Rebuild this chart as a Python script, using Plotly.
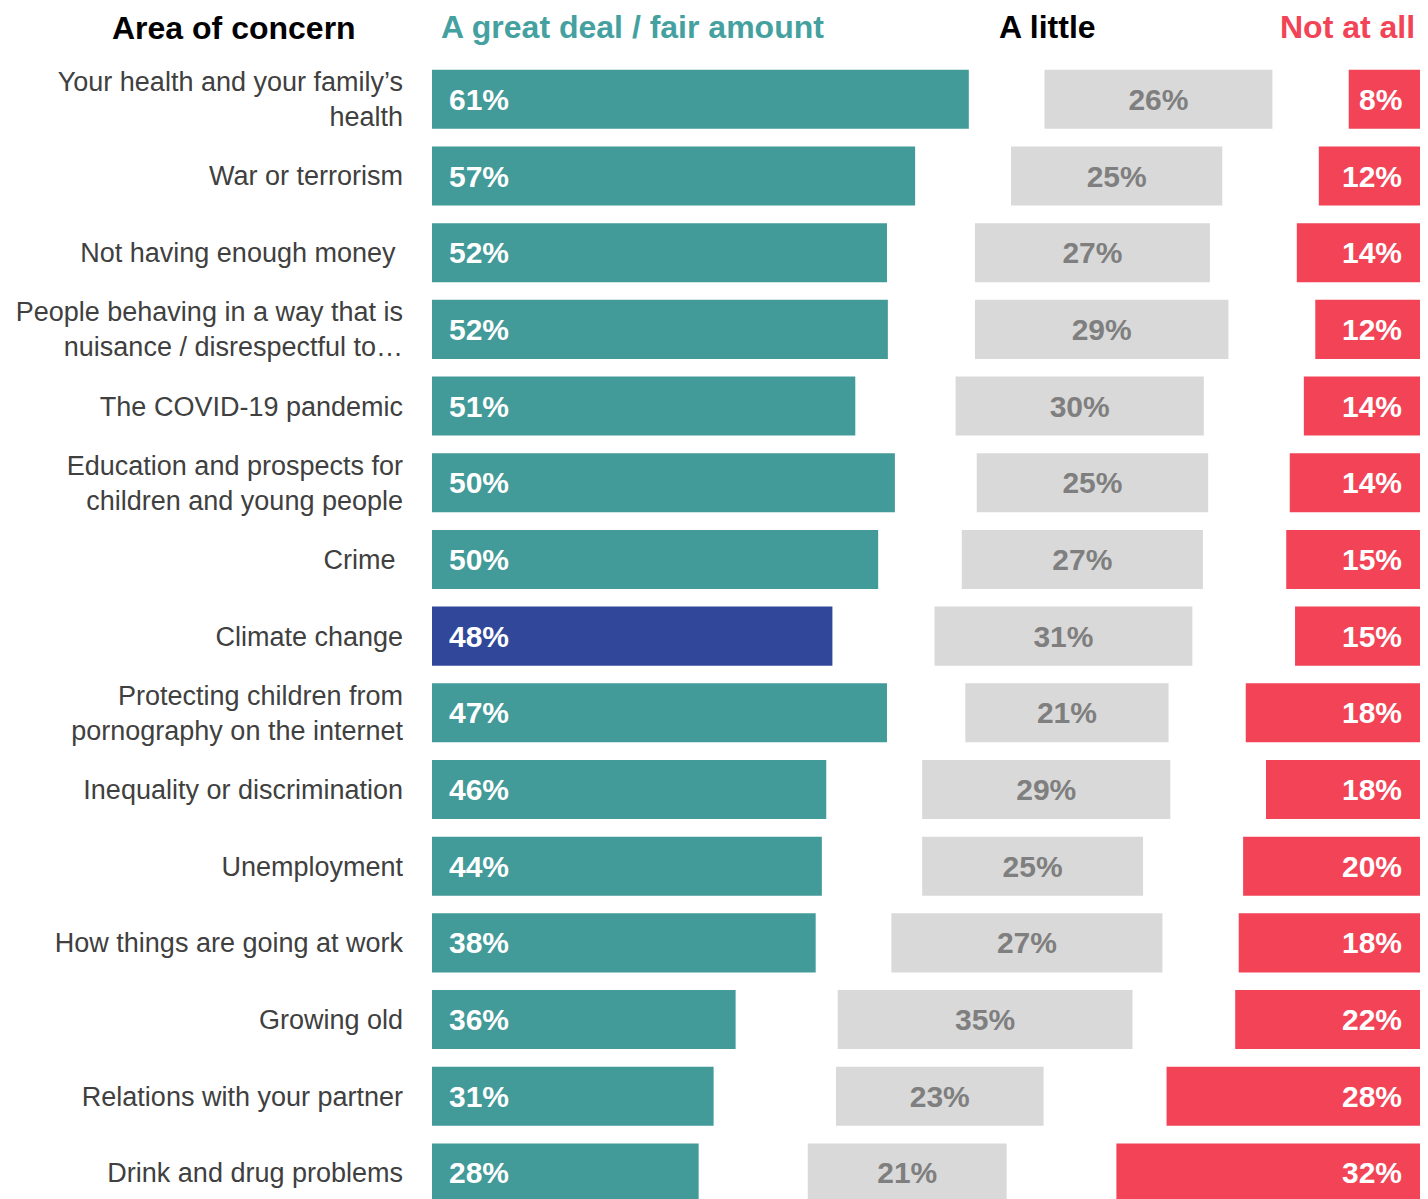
import plotly.graph_objects as go

# ---------------- data ----------------
categories = [
    "Your health and your family’s<br>health",
    "War or terrorism",
    "Not having enough money\u00a0",
    "People behaving in a way that is<br>nuisance / disrespectful to…",
    "The COVID-19 pandemic",
    "Education and prospects for<br>children and young people",
    "Crime\u00a0",
    "Climate change",
    "Protecting children from<br>pornography on the internet",
    "Inequality or discrimination",
    "Unemployment",
    "How things are going at work",
    "Growing old",
    "Relations with your partner",
    "Drink and drug problems",
]

# reported percentages (labels)
great_deal = [61, 57, 52, 52, 51, 50, 50, 48, 47, 46, 44, 38, 36, 31, 28]
a_little = [26, 25, 27, 29, 30, 25, 27, 31, 21, 29, 25, 27, 35, 23, 21]
not_at_all = [8, 12, 14, 12, 14, 14, 15, 15, 18, 18, 20, 18, 22, 28, 32]

# bar extents as drawn in the original graphic (percentage-point units)
great_deal_drawn = [61.0, 54.9, 51.7, 51.8, 48.1, 52.6, 50.7, 45.5, 51.7, 44.8, 44.3, 43.6, 34.5, 32.0, 30.3]
spacer_drawn = [8.6, 10.9, 10.0, 9.9, 11.4, 9.3, 9.5, 11.6, 8.9, 10.9, 11.4, 8.6, 11.6, 13.9, 12.4]
a_little_drawn = [25.9, 24.0, 26.7, 28.8, 28.2, 26.3, 27.4, 29.3, 23.1, 28.2, 25.1, 30.8, 33.5, 23.6, 22.6]
not_at_all_drawn = [8.1, 11.5, 14.0, 11.9, 13.2, 14.8, 15.2, 14.2, 19.8, 17.5, 20.1, 20.6, 21.0, 28.8, 34.5]
TOTAL = 112.27  # full width of the stacked graphic

highlight = "Climate change"

headers = ["Area of concern", "A great deal / fair amount", "A little", "Not at all"]

# ---------------- style ----------------
TEAL = "#429A99"
NAVY = "#30479A"
GREY = "#D9D9D9"
GREY_TXT = "#7F7F7F"
RED = "#F24456"
FONT = "Liberation Sans, Arial, sans-serif"

teal_colors = [NAVY if c == highlight else TEAL for c in categories]
gray_base = [g + s for g, s in zip(great_deal_drawn, spacer_drawn)]
red_base = [TOTAL - r for r in not_at_all_drawn]

fig = go.Figure()
fig.add_trace(go.Bar(
    y=categories, x=great_deal_drawn, base=0, orientation="h",
    marker=dict(color=teal_colors, line=dict(width=0)),
    hoverinfo="skip", showlegend=False,
))
fig.add_trace(go.Bar(
    y=categories, x=a_little_drawn, base=gray_base, orientation="h",
    marker=dict(color=GREY, line=dict(width=0)),
    text=[f"{v}%" for v in a_little], textposition="inside",
    insidetextanchor="middle", textangle=0, constraintext="none",
    textfont=dict(family=FONT, size=30, color=GREY_TXT, weight="bold"),
    hoverinfo="skip", showlegend=False,
))
fig.add_trace(go.Bar(
    y=categories, x=not_at_all_drawn, base=red_base, orientation="h",
    marker=dict(color=RED, line=dict(width=0)),
    hoverinfo="skip", showlegend=False,
))

annotations = []
for cat, v in zip(categories, great_deal):
    annotations.append(dict(
        x=0, y=cat, xref="x", yref="y", text=f"{v}%", showarrow=False,
        xanchor="left", yanchor="middle", xshift=15,
        font=dict(family=FONT, size=30, color="white", weight="bold"),
    ))
for cat, v in zip(categories, not_at_all):
    annotations.append(dict(
        x=TOTAL, y=cat, xref="x", yref="y", text=f"{v}%", showarrow=False,
        xanchor="right", yanchor="middle", xshift=-16,
        font=dict(family=FONT, size=30, color="white", weight="bold"),
    ))

hdr_font = dict(family=FONT, size=32, weight="bold")
annotations += [
    dict(x=-0.2, y=1, xref="paper", yref="paper", yshift=33, text=headers[0],
         showarrow=False, xanchor="center", yanchor="middle",
         font=dict(hdr_font, color="black")),
    dict(x=0.0075, y=1, xref="paper", yref="paper", yshift=34, text=headers[1],
         showarrow=False, xanchor="left", yanchor="middle",
         font=dict(hdr_font, color="#45A19F")),
    dict(x=0.6225, y=1, xref="paper", yref="paper", yshift=34, text=headers[2],
         showarrow=False, xanchor="center", yanchor="middle",
         font=dict(hdr_font, color="black")),
    dict(x=0.997, y=1, xref="paper", yref="paper", yshift=34, text=headers[3],
         showarrow=False, xanchor="right", yanchor="middle",
         font=dict(hdr_font, color=RED)),
]

fig.update_layout(
    width=1420, height=1191,
    margin=dict(l=424, r=8, t=53, b=0, pad=0),
    paper_bgcolor="white", plot_bgcolor="white",
    barmode="overlay", bargap=0.23,
    annotations=annotations,
    xaxis=dict(range=[0, TOTAL], visible=False, fixedrange=True),
    yaxis=dict(
        type="category", range=[14.34, -0.5], showgrid=False, zeroline=False,
        showline=False, ticks="", ticklabelstandoff=28,
        tickfont=dict(family=FONT, size=27, color="#404040"),
        automargin=False, fixedrange=True,
    ),
    font=dict(family=FONT),
)

fig.write_html("out.html")
